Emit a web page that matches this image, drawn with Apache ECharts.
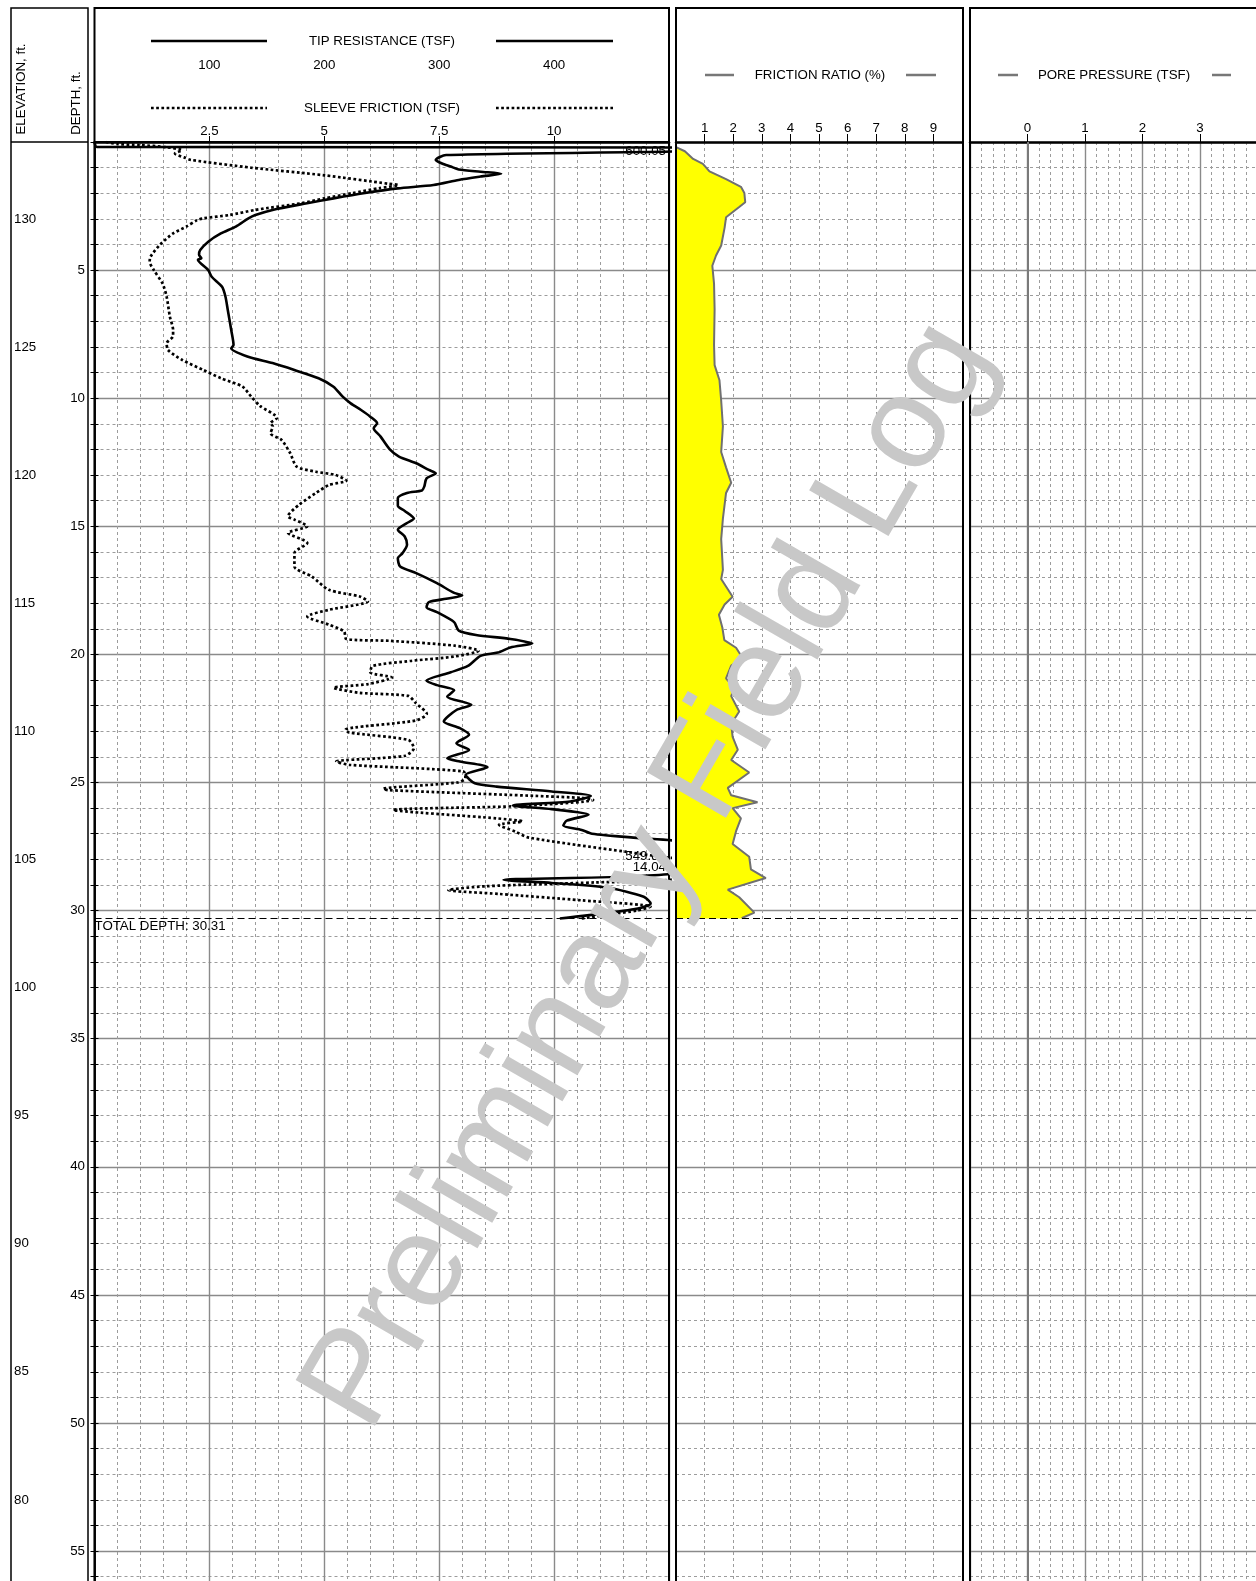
<!DOCTYPE html>
<html><head><meta charset="utf-8">
<script src="https://cdn.jsdelivr.net/npm/echarts@6/dist/echarts.min.js"></script>
<style>html,body{margin:0;padding:0;background:#fff}#c{width:1256px;height:1581px}</style>
</head><body><div id="c"></div>
<script>
// ---------- data (depth in ft) ----------
const tipDepth = [0.00,0.19,0.22,0.37,0.51,0.70,0.83,0.96,1.07,1.16,1.24,1.35,1.48,1.68,1.81,2.00,2.20,2.39,2.65,2.85,2.98,3.30,3.57,3.89,4.22,4.40,4.54,4.60,5.00,5.26,5.65,6.04,6.56,7.34,7.92,8.05,8.37,8.63,8.90,9.22,9.55,9.94,10.20,10.46,10.72,10.98,11.17,11.50,12.00,12.28,12.54,12.80,12.93,13.13,13.45,13.60,13.70,13.90,14.20,14.40,14.70,14.87,15.13,15.40,15.72,16.05,16.25,16.57,16.83,17.22,17.60,17.70,17.83,17.96,18.16,18.35,18.74,19.07,19.24,19.40,19.57,19.73,19.93,20.06,20.45,20.70,21.03,21.20,21.40,21.65,21.97,22.17,22.62,22.88,23.14,23.47,23.73,24.05,24.18,24.40,24.70,25.03,25.16,25.35,25.53,25.74,25.90,26.04,26.26,26.49,26.68,26.85,27.00,27.16,27.27,27.62,28.55,28.80,28.92,29.10,29.46,29.72,29.90,30.10,30.31];
const tipTsf   = [0,2,600.05,505,306,297,302,310,317,336,354,336,317,295,264,234,208,185,155,140,134,123,110,99,92,91,93,90,99,102,111,114,116,119,121,119,133,155,174,195,208,216,223,232,240,246,243,249,257,265,280,291,297,289,287,285,272,264,264,270,278,272,264,270,272,268,264,266,280,298,313,320,306,291,289,298,313,317,332,362,381,362,351,336,325,310,289,298,313,307,328,315,304,318,326,315,326,307,318,342,323,331,350,398,432,414,364,398,430,411,408,424,433,472,505,549.81,505,356,398,446,478,484,475,446,405];

const sleeveDepth = [0.00,0.08,0.12,0.20,0.32,0.45,0.60,0.70,1.00,1.30,1.63,1.68,1.80,2.00,2.20,2.39,2.65,2.85,2.98,3.05,3.30,3.57,4.00,4.47,4.67,5.00,5.52,6.04,6.82,7.34,7.57,7.86,8.12,8.50,8.90,9.22,9.55,9.94,10.30,10.77,10.98,11.10,11.37,11.63,12.15,12.67,12.87,13.00,13.22,13.39,13.70,14.16,14.61,14.74,15.00,15.26,15.65,16.05,16.57,16.96,17.48,17.74,17.93,18.26,18.52,18.84,19.10,19.40,19.47,19.66,19.86,20.08,20.25,20.45,20.70,20.90,21.16,21.30,21.50,21.62,21.90,22.32,22.58,22.94,23.05,23.34,23.66,23.96,24.18,24.31,24.57,24.83,25.00,25.25,25.30,25.60,25.68,25.92,26.07,26.40,26.52,26.65,26.92,27.15,27.70,27.95,28.02,28.78,28.90,29.05,29.20,29.35,29.60,29.85,30.00,30.15,30.31];
const sleeveTsf   = [0.25,0.5,1.0,1.55,1.9,1.75,1.95,2.1,3.4,5.0,6.4,6.61,6.2,5.6,5.0,4.5,3.5,2.94,2.37,2.23,2.0,1.71,1.43,1.22,1.20,1.29,1.48,1.57,1.64,1.71,1.71,1.57,1.60,1.90,2.37,2.75,3.22,3.41,3.60,3.97,3.83,3.88,3.83,4.07,4.26,4.40,4.82,5.25,5.48,5.10,4.82,4.45,4.21,4.35,4.63,4.21,4.63,4.35,4.35,4.73,5.10,5.77,5.95,5.10,4.63,5.10,5.43,5.48,6.42,7.84,8.36,7.84,6.90,6.05,6.00,6.47,5.95,5.20,5.77,6.83,6.99,7.23,6.99,5.46,5.54,6.83,6.95,6.75,5.26,5.54,8.03,8.07,7.9,6.28,6.4,10.6,10.85,9.25,6.5,8.75,9.31,8.8,9.16,9.45,11.55,12.6,14.04,12.6,10.9,8.5,7.7,8.8,10.6,12.1,11.8,11.2,10.6];

const frDepth = [0.20,0.36,0.66,0.85,1.15,1.45,1.75,1.99,2.35,2.54,2.94,3.34,4.04,4.43,4.83,5.53,6.52,7.91,8.71,9.30,10.10,11.10,12.10,12.70,13.30,13.70,14.70,15.50,16.70,17.06,17.75,18.05,18.45,18.95,19.44,19.74,20.14,20.44,20.94,21.33,21.63,22.23,22.72,23.22,23.72,24.12,24.61,25.21,25.50,25.77,26.00,26.40,26.90,27.40,27.90,28.39,28.73,29.18,29.48,30.08,30.28,30.31];
const frPct   = [0,0.31,0.6,0.94,1.17,1.75,2.27,2.39,2.42,2.21,1.75,1.70,1.58,1.40,1.27,1.33,1.35,1.33,1.35,1.52,1.58,1.64,1.58,1.75,1.93,1.75,1.64,1.58,1.64,1.58,1.98,1.70,1.50,1.62,1.69,2.10,2.33,1.93,1.75,2.04,1.93,2.21,1.93,1.98,2.16,1.93,2.56,1.81,1.93,2.85,1.98,2.27,2.10,1.98,2.56,2.62,3.14,1.81,2.21,2.74,2.33,2.30];

const porePressure = []; // no pore pressure readings in this log
const totalDepth = 30.31;
const surfaceElevation = 133;

// ---------- chart ----------
const FONT = 'Liberation Sans, Arial, sans-serif';
const FS = 13.3;
const PX_PER_FT = 25.62;
const DEPTH_MAX = 60;
const gridH = DEPTH_MAX * PX_PER_FT;
const majorLine = { show:true, lineStyle:{ color:'#8a8a8a', width:1.4, type:'solid' } };
const minorLine = { show:true, lineStyle:{ color:'#9c9c9c', width:1, type:[3,3] } };
const noLine = { show:false };

const tipData = tipDepth.map((d,i)=>[tipTsf[i], d]);
const sleeveData = sleeveDepth.map((d,i)=>[sleeveTsf[i], d]);
const frData = frDepth.map((d,i)=>[frPct[i], d]);

const chart = echarts.init(document.getElementById('c'), null, {renderer:'canvas'});

const labelStyle = { color:'#000', fontSize:FS, fontFamily:FONT };

const tdMark = (withLabel) => ({
  silent:true, symbol:['none','none'],
  lineStyle:{ color:'#000', width:1.2, type:[7,4] },
  label: withLabel ? { show:true, position:'insideStartBottom', formatter:'TOTAL DEPTH: ' + totalDepth,
     color:'#000', fontSize:FS, fontFamily:FONT, distance:[0,1] } : { show:false },
  data:[{ yAxis: totalDepth }]
});

const option = {
  animation:false,
  backgroundColor:'#fff',
  grid:[
    { left:94.5, top:142, width:574.5, height:gridH, outerBoundsMode:'none', containLabel:false },
    { left:676, top:142, width:286, height:gridH, outerBoundsMode:'none', containLabel:false },
    { left:970, top:142, width:287.5, height:gridH, outerBoundsMode:'none', containLabel:false }
  ],
  xAxis:[
    { // tip resistance
      gridIndex:0, type:'value', position:'top', offset:68, min:0, max:500, interval:100,
      axisLine:{ show:true, lineStyle:{ color:'#000', width:2 } },
      axisTick:{ show:true, length:4, lineStyle:{ color:'#000', width:1 } },
      axisLabel:{ ...labelStyle, margin:2, showMinLabel:false, showMaxLabel:false },
      splitLine: majorLine, minorTick:{ show:false, splitNumber:5 }, minorSplitLine: minorLine
    },
    { // sleeve friction
      gridIndex:0, type:'value', position:'top', offset:0, min:0, max:12.5, interval:2.5,
      axisLine:{ show:true, lineStyle:{ color:'#000', width:2.5 } },
      axisTick:{ show:true, length:6, lineStyle:{ color:'#000', width:1 } },
      axisLabel:{ ...labelStyle, margin:4, showMinLabel:false, showMaxLabel:false },
      splitLine: noLine
    },
    { // friction ratio
      gridIndex:1, type:'value', position:'top', min:0, max:10, interval:1,
      axisLine:{ show:true, lineStyle:{ color:'#000', width:2.5 } },
      axisTick:{ show:true, length:8, lineStyle:{ color:'#000', width:1 } },
      axisLabel:{ ...labelStyle, margin:7, showMinLabel:false, showMaxLabel:false },
      splitLine: minorLine
    },
    { // pore pressure
      gridIndex:2, type:'value', position:'top', min:-1, max:4, interval:1,
      axisLine:{ show:true, lineStyle:{ color:'#000', width:2.5 } },
      axisTick:{ show:true, length:8, lineStyle:{ color:'#000', width:1 } },
      axisLabel:{ ...labelStyle, margin:7, showMinLabel:false, showMaxLabel:false },
      splitLine: majorLine, minorTick:{ show:false, splitNumber:5 }, minorSplitLine: minorLine
    }
  ],
  yAxis:[
    { // depth
      gridIndex:0, type:'value', inverse:true, min:0, max:DEPTH_MAX, interval:5, position:'left', offset:6.5,
      axisLine:{ show:true, lineStyle:{ color:'#000', width:1.5 } },
      axisTick:{ show:true, length:4, lineStyle:{ color:'#000', width:1 } },
      minorTick:{ show:true, splitNumber:5, length:4, lineStyle:{ color:'#000', width:1 } },
      axisLabel:{ ...labelStyle, margin:3, formatter:v => v === 0 ? '' : String(v) },
      splitLine: majorLine, minorSplitLine: minorLine
    },
    { // elevation
      gridIndex:0, type:'value', min:surfaceElevation - DEPTH_MAX, max:surfaceElevation, interval:1, position:'left', offset:83.5,
      axisLine:{ show:true, lineStyle:{ color:'#000', width:1.5 } },
      axisTick:{ show:true, inside:true, length:4, lineStyle:{ color:'#000', width:1 } },
      axisLabel:{ ...labelStyle, inside:true, margin:3, interval:0, formatter:v => (v % 5 === 0 ? String(v) : '') },
      splitLine: noLine
    },
    { gridIndex:1, type:'value', inverse:true, min:0, max:DEPTH_MAX, interval:5,
      axisLine:noLine, axisTick:noLine, axisLabel:noLine,
      splitLine: majorLine, minorTick:{ show:false, splitNumber:5 }, minorSplitLine: minorLine },
    { gridIndex:2, type:'value', inverse:true, min:0, max:DEPTH_MAX, interval:5,
      axisLine:noLine, axisTick:noLine, axisLabel:noLine,
      splitLine: majorLine, minorTick:{ show:false, splitNumber:5 }, minorSplitLine: minorLine }
  ],
  series:[
    {
      name:'Tip Resistance', type:'line', xAxisIndex:0, yAxisIndex:0, data:tipData,
      showSymbol:false, symbol:'none', smooth:0.25, clip:true, z:5,
      lineStyle:{ color:'#000', width:2.6 },
      markLine: tdMark(true),
      markPoint:{ symbol:'rect', symbolSize:0, silent:true,
        label:{ show:true, position:'left', distance:3, ...labelStyle, formatter:p => p.name },
        data:[ { name:String(600.05), coord:[500, 0.36] }, { name:String(549.81), coord:[500, 27.87] } ] }
    },
    {
      name:'Sleeve Friction', type:'line', xAxisIndex:1, yAxisIndex:0, data:sleeveData,
      showSymbol:false, symbol:'none', smooth:0.25, clip:true, z:5,
      lineStyle:{ color:'#000', width:2.7, type:[2.7,2.5] },
      markPoint:{ symbol:'rect', symbolSize:0, silent:true,
        label:{ show:true, position:'left', distance:3, ...labelStyle, formatter:p => p.name },
        data:[ { name:String(14.04), coord:[12.5, 28.3] } ] }
    },
    {
      name:'Friction Ratio Fill', type:'custom', xAxisIndex:2, yAxisIndex:2, data:frData, z:3, clip:true,
      encode:{ x:0, y:1 },
      renderItem:(params, api) => {
        if (params.dataIndex !== 0) return null;
        const pts = [api.coord([0, frDepth[0]])];
        for (let i = 0; i < frDepth.length; i++) pts.push(api.coord([frPct[i], frDepth[i]]));
        pts.push(api.coord([0, frDepth[frDepth.length-1]]));
        return { type:'polygon', shape:{ points:pts }, style:{ fill:'#ffff00', stroke:null } };
      }
    },
    {
      name:'Friction Ratio', type:'line', xAxisIndex:2, yAxisIndex:2, data:frData,
      showSymbol:false, symbol:'none', z:4,
      lineStyle:{ color:'#707070', width:2 },
      markLine: tdMark(false)
    },
    {
      name:'Pore Pressure', type:'line', xAxisIndex:3, yAxisIndex:3, data:porePressure,
      showSymbol:false, symbol:'none', z:4,
      lineStyle:{ color:'#707070', width:2 },
      markLine:{ silent:true, symbol:['none','none'], label:{ show:false },
        data:[ { yAxis: totalDepth, lineStyle:{ color:'#000', width:1.2, type:[7,4] } },
               { xAxis: 0, lineStyle:{ color:'#7a7a7a', width:2, type:'solid' } } ] }
    }
  ],
  graphic:[
    // frames
    { type:'rect', shape:{ x:11, y:8, width:77, height:1600 }, style:{ fill:null, stroke:'#000', lineWidth:1.5 }, z:10, silent:true },
    { type:'line', shape:{ x1:11, y1:142, x2:88, y2:142 }, style:{ stroke:'#000', lineWidth:1.5 }, z:10, silent:true },
    { type:'rect', shape:{ x:94.5, y:8, width:574.5, height:1600 }, style:{ fill:null, stroke:'#000', lineWidth:2 }, z:10, silent:true },
    { type:'rect', shape:{ x:676, y:8, width:287, height:1600 }, style:{ fill:null, stroke:'#000', lineWidth:2 }, z:10, silent:true },
    { type:'rect', shape:{ x:970, y:8, width:300, height:1600 }, style:{ fill:null, stroke:'#000', lineWidth:2 }, z:10, silent:true },
    // header: left column
    { type:'text', x:21, y:89, rotation:Math.PI/2, silent:true, z:10,
      style:{ text:'ELEVATION, ft.', fill:'#000', font:FS + 'px ' + FONT, textAlign:'center', textVerticalAlign:'middle' } },
    { type:'text', x:76, y:103, rotation:Math.PI/2, silent:true, z:10,
      style:{ text:'DEPTH, ft.', fill:'#000', font:FS + 'px ' + FONT, textAlign:'center', textVerticalAlign:'middle' } },
    // header: tip resistance
    { type:'line', shape:{ x1:151, y1:41, x2:267, y2:41 }, style:{ stroke:'#000', lineWidth:2.6 }, z:10, silent:true },
    { type:'line', shape:{ x1:496, y1:41, x2:613, y2:41 }, style:{ stroke:'#000', lineWidth:2.6 }, z:10, silent:true },
    { type:'text', x:382, y:41, silent:true, z:10,
      style:{ text:'TIP RESISTANCE (TSF)', fill:'#000', font:FS + 'px ' + FONT, textAlign:'center', textVerticalAlign:'middle' } },
    // header: sleeve friction
    { type:'line', shape:{ x1:151, y1:108, x2:267, y2:108 }, style:{ stroke:'#000', lineWidth:2.7, lineDash:[2.7,2.5] }, z:10, silent:true },
    { type:'line', shape:{ x1:496, y1:108, x2:613, y2:108 }, style:{ stroke:'#000', lineWidth:2.7, lineDash:[2.7,2.5] }, z:10, silent:true },
    { type:'text', x:382, y:108, silent:true, z:10,
      style:{ text:'SLEEVE FRICTION (TSF)', fill:'#000', font:FS + 'px ' + FONT, textAlign:'center', textVerticalAlign:'middle' } },
    // header: friction ratio
    { type:'line', shape:{ x1:705, y1:75, x2:734, y2:75 }, style:{ stroke:'#777', lineWidth:2.5 }, z:10, silent:true },
    { type:'line', shape:{ x1:906, y1:75, x2:936, y2:75 }, style:{ stroke:'#777', lineWidth:2.5 }, z:10, silent:true },
    { type:'text', x:820, y:75, silent:true, z:10,
      style:{ text:'FRICTION RATIO (%)', fill:'#000', font:FS + 'px ' + FONT, textAlign:'center', textVerticalAlign:'middle' } },
    // header: pore pressure
    { type:'line', shape:{ x1:998, y1:75, x2:1018, y2:75 }, style:{ stroke:'#777', lineWidth:2.5 }, z:10, silent:true },
    { type:'line', shape:{ x1:1212, y1:75, x2:1231, y2:75 }, style:{ stroke:'#777', lineWidth:2.5 }, z:10, silent:true },
    { type:'text', x:1114, y:75, silent:true, z:10,
      style:{ text:'PORE PRESSURE (TSF)', fill:'#000', font:FS + 'px ' + FONT, textAlign:'center', textVerticalAlign:'middle' } },
    // watermark
    { type:'text', x:650, y:876, rotation:60*Math.PI/180, silent:true, z:100,
      style:{ text:'Preliminary Field Log', fill:'#c8c8c8', font:'133px ' + FONT, textAlign:'center', textVerticalAlign:'middle' } }
  ]
};
chart.setOption(option);
</script>
</body></html>
